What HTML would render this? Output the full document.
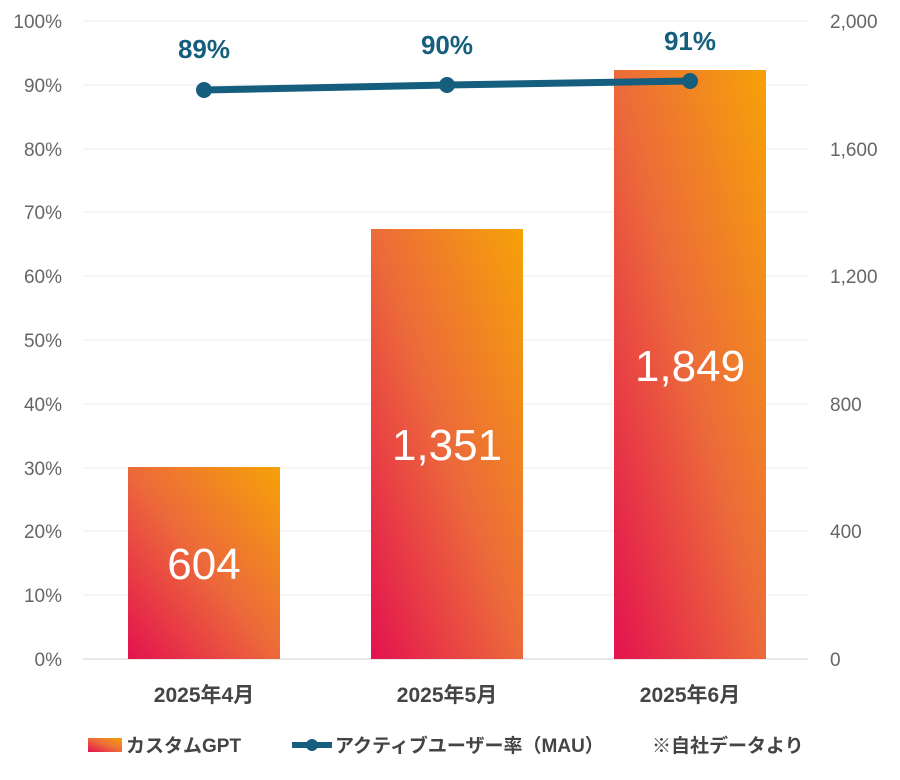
<!DOCTYPE html>
<html><head><meta charset="utf-8"><style>
body{margin:0;background:#fff;}
svg text{font-family:"Liberation Sans","Noto Sans CJK JP",sans-serif;}
</style></head><body>
<svg width="900" height="775" viewBox="0 0 900 775" xmlns="http://www.w3.org/2000/svg">
<defs>
<linearGradient id="g" x1="0" y1="1" x2="1" y2="0">
<stop offset="0" stop-color="#e3124f"/>
<stop offset="0.5" stop-color="#ec6a3a"/>
<stop offset="1" stop-color="#f6a208"/>
</linearGradient>
</defs>
<g stroke="#eeeeee" stroke-width="1">
<line x1="83" x2="808" y1="21" y2="21"/><line x1="83" x2="808" y1="85" y2="85"/>
<line x1="83" x2="808" y1="149" y2="149"/><line x1="83" x2="808" y1="212" y2="212"/>
<line x1="83" x2="808" y1="276" y2="276"/><line x1="83" x2="808" y1="340" y2="340"/>
<line x1="83" x2="808" y1="404" y2="404"/><line x1="83" x2="808" y1="468" y2="468"/>
<line x1="83" x2="808" y1="531" y2="531"/><line x1="83" x2="808" y1="595" y2="595"/>
</g>
<line x1="83" x2="808" y1="659" y2="659" stroke="#d0d0d0"/>
<g font-size="19" fill="#666" text-anchor="end">
<text x="62" y="28">100%</text><text x="62" y="92">90%</text><text x="62" y="156">80%</text>
<text x="62" y="219">70%</text><text x="62" y="283">60%</text><text x="62" y="347">50%</text>
<text x="62" y="411">40%</text><text x="62" y="475">30%</text><text x="62" y="538">20%</text>
<text x="62" y="602">10%</text><text x="62" y="666">0%</text>
</g>
<g font-size="19" fill="#666" text-anchor="start">
<text x="830" y="28">2,000</text><text x="830" y="156">1,600</text><text x="830" y="283">1,200</text>
<text x="830" y="411">800</text><text x="830" y="538">400</text><text x="830" y="666">0</text>
</g>
<rect x="128" y="467" width="152" height="192" fill="url(#g)"/>
<rect x="371" y="229" width="152" height="430" fill="url(#g)"/>
<rect x="614" y="70" width="152" height="589" fill="url(#g)"/>
<g font-size="44" fill="#fff" text-anchor="middle">
<text x="204" y="579">604</text><text x="447" y="460">1,351</text><text x="690" y="381">1,849</text>
</g>
<polyline points="204,90 447,85 690,81" fill="none" stroke="#155e7e" stroke-width="7"/>
<g fill="#155e7e"><circle cx="204" cy="90" r="8"/><circle cx="447" cy="85" r="8"/><circle cx="690" cy="81" r="8"/></g>
<g font-size="26" fill="#155e7e" text-anchor="middle" font-weight="bold">
<text x="204" y="58">89%</text><text x="447" y="54">90%</text><text x="690" y="50">91%</text>
</g>
<g font-size="21" fill="#444" text-anchor="middle" font-weight="bold">
<text x="204" y="702">2025年4月</text><text x="447" y="702">2025年5月</text><text x="690" y="702">2025年6月</text>
</g>
<rect x="88" y="738" width="34" height="14" fill="url(#g)"/>
<text x="126" y="752" font-size="19" fill="#444" font-weight="bold">カスタムGPT</text>
<line x1="292" x2="332" y1="745" y2="745" stroke="#155e7e" stroke-width="6"/>
<circle cx="312" cy="745" r="6" fill="#155e7e"/>
<text x="335" y="752" font-size="19" fill="#444" font-weight="bold">アクティブユーザー率（MAU）</text>
<text x="652" y="752" font-size="19" fill="#444" font-weight="bold">※自社データより</text>
</svg>
</body></html>
